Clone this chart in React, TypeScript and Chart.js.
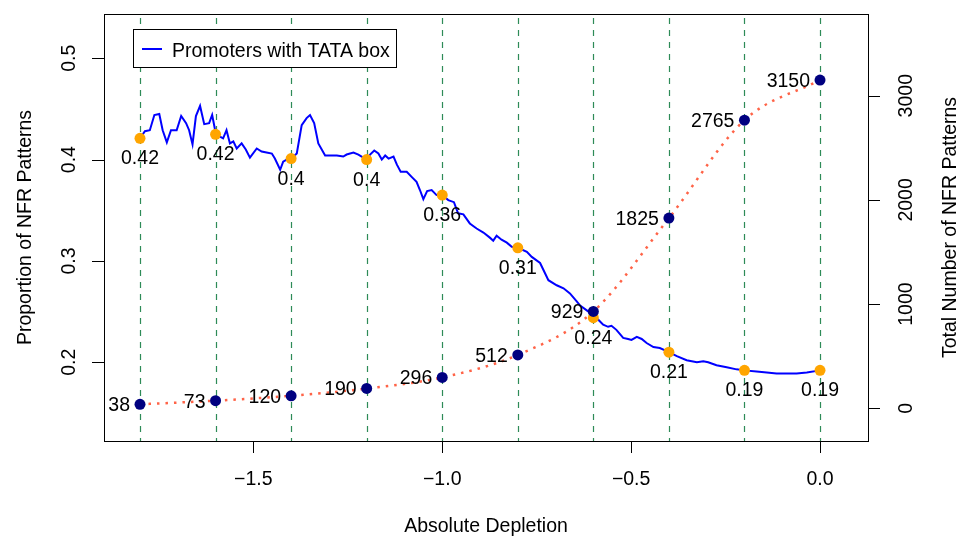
import { useEffect, useRef } from 'react';
import { Chart, registerables } from 'chart.js';

Chart.register(...registerables);

// ---- data ----
const depletionGrid = [-1.8, -1.6, -1.4, -1.2, -1.0, -0.8, -0.6, -0.4, -0.2, 0.0];
const proportionValues = [0.421, 0.425, 0.401, 0.400, 0.365, 0.313, 0.244, 0.210, 0.192, 0.192];
const proportionLabels = ['0.42', '0.42', '0.4', '0.4', '0.36', '0.31', '0.24', '0.21', '0.19', '0.19'];
const totalCounts = [38, 73, 120, 190, 296, 512, 929, 1825, 2765, 3150];

const tataX = [-1.800,-1.787,-1.774,-1.762,-1.749,-1.740,-1.729,-1.718,-1.703,-1.691,
  -1.678,-1.670,-1.661,-1.652,-1.641,-1.630,-1.617,-1.609,-1.599,-1.580,
  -1.571,-1.562,-1.553,-1.544,-1.531,-1.520,-1.509,-1.491,-1.478,-1.465,
  -1.451,-1.443,-1.429,-1.421,-1.412,-1.400,-1.385,-1.372,-1.359,-1.350,
  -1.339,-1.328,-1.310,-1.297,-1.279,-1.262,-1.253,-1.235,-1.222,-1.200,
  -1.191,-1.180,-1.169,-1.160,-1.151,-1.142,-1.129,-1.120,-1.110,-1.094,
  -1.081,-1.068,-1.059,-1.050,-1.040,-1.028,-1.015,-1.000,-0.984,-0.969,
  -0.958,-0.944,-0.927,-0.909,-0.891,-0.874,-0.865,-0.856,-0.843,-0.829,
  -0.816,-0.800,-0.776,-0.763,-0.741,-0.719,-0.697,-0.679,-0.662,-0.644,
  -0.635,-0.613,-0.600,-0.587,-0.574,-0.561,-0.552,-0.539,-0.521,-0.508,
  -0.499,-0.485,-0.472,-0.459,-0.441,-0.424,-0.400,-0.379,-0.353,-0.326,
  -0.309,-0.296,-0.274,-0.247,-0.221,-0.200,-0.168,-0.141,-0.115,-0.088,
  -0.062,-0.035,0.000];
const tataY = [0.421,0.428,0.429,0.444,0.445,0.429,0.417,0.429,0.429,0.443,
  0.436,0.429,0.415,0.443,0.453,0.435,0.436,0.444,0.425,0.421,
  0.429,0.416,0.418,0.411,0.416,0.410,0.402,0.411,0.408,0.407,
  0.406,0.401,0.390,0.398,0.400,0.401,0.406,0.434,0.441,0.444,
  0.436,0.416,0.404,0.404,0.404,0.403,0.405,0.407,0.405,0.400,
  0.405,0.409,0.406,0.400,0.404,0.401,0.403,0.395,0.388,0.388,
  0.383,0.378,0.370,0.361,0.369,0.370,0.365,0.365,0.360,0.358,
  0.347,0.346,0.337,0.332,0.328,0.323,0.320,0.325,0.321,0.318,
  0.314,0.313,0.309,0.304,0.298,0.281,0.276,0.273,0.268,0.260,
  0.256,0.250,0.244,0.242,0.237,0.235,0.236,0.232,0.224,0.223,
  0.222,0.225,0.223,0.219,0.215,0.214,0.210,0.206,0.202,0.200,
  0.201,0.200,0.197,0.195,0.193,0.192,0.191,0.190,0.189,0.189,
  0.189,0.190,0.192];

const xTicks = [-1.5, -1.0, -0.5, 0.0];
const xTickLabels = ['\u22121.5', '\u22121.0', '\u22120.5', '0.0'];
const leftTicks = [0.2, 0.3, 0.4, 0.5];
const leftTickLabels = ['0.2', '0.3', '0.4', '0.5'];
const rightTicks = [0, 1000, 2000, 3000];
const rightTickLabels = ['0', '1000', '2000', '3000'];

const xTitle = 'Absolute Depletion';
const leftTitle = 'Proportion of NFR Patterns';
const rightTitle = 'Total Number of NFR Patterns';
const legendLabel = 'Promoters with TATA box';

const FONT = '19.5px "Liberation Sans", Arial, Helvetica, sans-serif';

const overlay = {
  id: 'overlay',
  beforeDatasetsDraw(chart: any) {
    const { ctx, chartArea: a, scales } = chart;
    const x = scales.x;
    ctx.save();
    ctx.strokeStyle = '#2E8B57';
    ctx.lineWidth = 1.2;
    ctx.setLineDash([6, 6]);
    for (const v of depletionGrid) {
      const px = Math.round(x.getPixelForValue(v)) + 0.5;
      ctx.beginPath();
      ctx.moveTo(px, a.top + 4);
      ctx.lineTo(px, a.bottom);
      ctx.stroke();
    }
    ctx.restore();
  },
  afterDatasetsDraw(chart: any) {
    const { ctx, scales } = chart;
    const x = scales.x, yL = scales.yL, yR = scales.yR;
    ctx.save();
    ctx.font = FONT;
    ctx.fillStyle = '#000';
    // proportion labels below points
    ctx.textAlign = 'center';
    ctx.textBaseline = 'alphabetic';
    depletionGrid.forEach((v, i) => {
      const px = x.getPixelForValue(v);
      const py = yL.getPixelForValue(proportionValues[i]);
      ctx.fillText(proportionLabels[i], px, py + 26);
    });
    // count labels left of points
    ctx.textAlign = 'right';
    depletionGrid.forEach((v, i) => {
      const px = x.getPixelForValue(v);
      const py = yR.getPixelForValue(totalCounts[i]);
      ctx.fillText(String(totalCounts[i]), px - 10, py + 7);
    });
    ctx.restore();
  },
  afterDraw(chart: any) {
    const { ctx, chartArea: a, scales } = chart;
    const x = scales.x, yL = scales.yL, yR = scales.yR;
    ctx.save();
    // box
    ctx.strokeStyle = '#000';
    ctx.lineWidth = 1;
    ctx.strokeRect(Math.round(a.left) + 0.5, Math.round(a.top) + 0.5, Math.round(a.right - a.left), Math.round(a.bottom - a.top));
    // ticks
    ctx.beginPath();
    for (const v of xTicks) {
      const px = Math.round(x.getPixelForValue(v)) + 0.5;
      ctx.moveTo(px, a.bottom);
      ctx.lineTo(px, a.bottom + 12);
    }
    for (const v of leftTicks) {
      const py = Math.round(yL.getPixelForValue(v)) + 0.5;
      ctx.moveTo(a.left, py);
      ctx.lineTo(a.left - 12, py);
    }
    for (const v of rightTicks) {
      const py = Math.round(yR.getPixelForValue(v)) + 0.5;
      ctx.moveTo(a.right, py);
      ctx.lineTo(a.right + 12, py);
    }
    ctx.stroke();

    ctx.font = FONT;
    ctx.fillStyle = '#000';
    ctx.textAlign = 'center';
    ctx.textBaseline = 'alphabetic';
    xTicks.forEach((v, i) => {
      ctx.fillText(xTickLabels[i], x.getPixelForValue(v), 485);
    });
    ctx.fillText(xTitle, (a.left + a.right) / 2, 532);

    const rot = (text: string, bx: number, cy: number) => {
      ctx.save();
      ctx.translate(bx, cy);
      ctx.rotate(-Math.PI / 2);
      ctx.fillText(text, 0, 0);
      ctx.restore();
    };
    leftTicks.forEach((v, i) => rot(leftTickLabels[i], 75, yL.getPixelForValue(v)));
    rightTicks.forEach((v, i) => rot(rightTickLabels[i], 912, yR.getPixelForValue(v)));
    rot(leftTitle, 31, (a.top + a.bottom) / 2);
    rot(rightTitle, 956, (a.top + a.bottom) / 2);

    // legend
    ctx.fillStyle = '#fff';
    ctx.fillRect(133.5, 29.5, 263, 38);
    ctx.strokeStyle = '#000';
    ctx.lineWidth = 1;
    ctx.strokeRect(133.5, 29.5, 263, 38);
    ctx.strokeStyle = '#0000FF';
    ctx.lineWidth = 2;
    ctx.beginPath();
    ctx.moveTo(142, 49);
    ctx.lineTo(162, 49);
    ctx.stroke();
    ctx.fillStyle = '#000';
    ctx.textAlign = 'left';
    ctx.fillText(legendLabel, 172, 56.5);
    ctx.restore();
  },
};

export default function App() {
  const canvasRef = useRef<HTMLCanvasElement | null>(null);

  useEffect(() => {
    const canvas = canvasRef.current;
    if (!canvas) return;
    const chart = new Chart(canvas, {
      type: 'line',
      data: {
        datasets: [
          {
            label: 'Total',
            data: depletionGrid.map((v, i) => ({ x: v, y: totalCounts[i] })),
            yAxisID: 'yR',
            borderColor: '#FF6347',
            borderWidth: 2.5,
            borderDash: [2.5, 6],
            cubicInterpolationMode: 'monotone',
            pointRadius: 5.5,
            pointBackgroundColor: '#000080',
            pointBorderWidth: 0,
            fill: false,
          },
          {
            label: 'Proportion',
            data: depletionGrid.map((v, i) => ({ x: v, y: proportionValues[i] })),
            yAxisID: 'yL',
            showLine: false,
            pointRadius: 5.5,
            pointBackgroundColor: '#FFA500',
            pointBorderWidth: 0,
          },
          {
            label: legendLabel,
            data: tataX.map((v, i) => ({ x: v, y: tataY[i] })),
            yAxisID: 'yL',
            borderColor: '#0000FF',
            borderWidth: 2,
            pointRadius: 0,
            tension: 0,
            fill: false,
          },
        ],
      } as any,
      options: {
        responsive: false,
        animation: false,
        devicePixelRatio: 1,
        layout: { padding: { left: 104, top: 14, right: 98, bottom: 96 } },
        plugins: { legend: { display: false }, tooltip: { enabled: false }, title: { display: false } },
        events: [],
        scales: {
          x: { type: 'linear', display: false, min: -1.8953, max: 0.127 },
          yL: { type: 'linear', display: false, position: 'left', min: 0.1223, max: 0.5437 },
          yR: { type: 'linear', display: false, position: 'right', min: -314, max: 3784 },
        },
      } as any,
      plugins: [overlay],
    });
    return () => chart.destroy();
  }, []);

  return (
    <div style={{ position: 'fixed', left: 0, top: 0, width: 966, height: 537, background: '#fff' }}>
      <canvas ref={canvasRef} width={966} height={537} style={{ display: 'block' }} />
    </div>
  );
}
